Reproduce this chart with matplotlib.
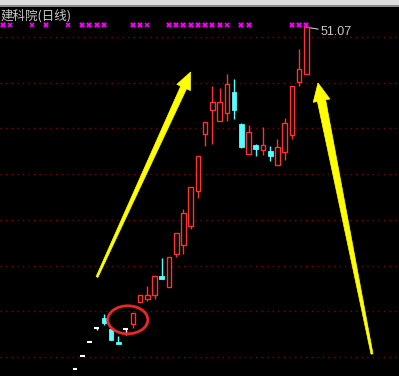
import numpy as np
import matplotlib
matplotlib.use('Agg')
import matplotlib.pyplot as plt
from matplotlib.patches import Rectangle, Polygon, Ellipse
import matplotlib.transforms as mtransforms

title = "建科院(日线)"

open_ = [13.64, 15.07, 16.60, 18.19, 19.26, 18.05, 16.66, 18.02, 18.63, 21.04,
         21.30, 21.74, 23.85, 22.68, 26.29, 27.28, 29.35, 33.18, 39.42, 41.98,
         40.78, 41.65, 43.95, 40.45, 37.23, 38.15, 37.69, 37.53, 36.03, 37.38,
         39.24, 45.04, 45.92]
high = [13.64, 15.07, 16.60, 18.19, 19.69, 18.05, 17.29, 18.02, 19.77, 21.74,
        22.76, 23.82, 25.82, 25.90, 28.52, 31.18, 33.56, 36.98, 40.67, 44.64,
        44.42, 45.95, 45.40, 40.62, 40.34, 38.29, 40.15, 38.07, 38.84, 41.14,
        44.61, 48.69, 51.07]
low = [13.64, 15.07, 16.60, 17.98, 18.49, 16.85, 16.44, 17.40, 18.19, 21.04,
       21.08, 21.30, 23.56, 22.68, 25.96, 26.29, 29.03, 32.42, 38.11, 38.29,
       40.78, 40.84, 41.06, 37.89, 37.23, 37.01, 37.12, 36.47, 36.03, 36.54,
       38.87, 44.67, 45.92]
close = [13.64, 15.07, 16.60, 18.19, 18.68, 16.85, 16.44, 18.02, 19.77, 21.74,
         21.74, 23.82, 23.56, 25.90, 28.52, 30.71, 33.56, 36.98, 40.67, 42.86,
         42.86, 44.82, 42.05, 38.00, 39.57, 37.78, 38.15, 37.01, 37.96, 40.56,
         44.61, 46.47, 51.07]

signal_full = [-10, -4, 1, 2, 3, 4, 8, 9, 13, 14, 15, 16, 17, 18, 19, 20, 23, 24, 30, 31, 32]
signal_thin = [-9, -6, -1, 10, 21]

grid_levels = [50, 45, 40, 35, 30, 25, 20, 15]

W, H = 399, 376
RED = '#ff3232'
CYAN = '#54ffff'

fig = plt.figure(figsize=(W / 100, H / 100), dpi=100, facecolor='black')
ax = fig.add_axes([0, 0, 1, 1])
ax.set_facecolor('black')
ax.set_xlim(-10.37, 44.81)
ax.set_ylim(12.91, 54.05)
ax.axis('off')

# grid
ax.hlines(grid_levels, -10.37, 44.81, colors='#800000', linestyles=(0, (1, 3)), lw=1.0, zorder=1)

# candles
bw = 0.64
for i in range(len(open_)):
    o, h, l, c = open_[i], high[i], low[i], close[i]
    if c > o:
        col = RED
        ax.vlines(i, l, o, colors=col, lw=1.0, zorder=3)
        ax.vlines(i, c, h, colors=col, lw=1.0, zorder=3)
        ax.add_patch(Rectangle((i - bw / 2, o), bw, c - o, facecolor='black',
                               edgecolor=col, lw=1.0, zorder=4))
    elif c < o:
        col = CYAN
        ax.vlines(i, l, h, colors=col, lw=1.0, zorder=3)
        ax.add_patch(Rectangle((i - bw / 2, c), bw, o - c, facecolor=col,
                               edgecolor=col, lw=0.6, zorder=4))
    else:
        col = 'white'
        ax.vlines(i, l, h, colors=col, lw=1.0, zorder=3)
        ax.hlines(o, i - bw / 2, i + bw / 2, colors=col, lw=1.5, zorder=4)

# signal markers at the top
trans = mtransforms.blended_transform_factory(ax.transData, ax.transAxes)
ax.plot(signal_full, [0.933] * len(signal_full), 'X', color='#ff00ff',
        markersize=4.3, markeredgewidth=0, transform=trans, zorder=5)
ax.plot(signal_thin, [0.933] * len(signal_thin), 'x', color='#ff00ff',
        markersize=3.2, markeredgewidth=1.1, transform=trans, zorder=5)

# peak label
imax = int(np.argmax(high))
ax.annotate(f"{high[imax]:.2f}", xy=(imax, high[imax]), xytext=(10.5, -3.5),
            textcoords='offset points', va='center', ha='left', color='#c8c8c8',
            fontsize=9, family='Liberation Sans',
            arrowprops=dict(arrowstyle='-', color='#c8c8c8', lw=0.8, shrinkA=0, shrinkB=0))

# title
fig.text(1 / W, 1 - 16 / H, title, color='#c8c8c8', fontsize=9, va='center', ha='left',
         family=['Noto Sans CJK SC', 'DejaVu Sans'])

# top gray bar
fig.patches.append(Rectangle((0, 1 - 5 / H), 1, 5 / H, transform=fig.transFigure,
                             facecolor='#dcdcdc', edgecolor='none', zorder=10))
fig.patches.append(Rectangle((0, 1 - 6.5 / H), 1, 1.5 / H, transform=fig.transFigure,
                             facecolor='#8a8a8a', edgecolor='none', zorder=10))


def px(x, y):
    return (x / W, 1 - y / H)


def arrow_poly(tail, tip, w_tail, w_base, w_head, head_len):
    T = np.array(tail, float)
    P = np.array(tip, float)
    d = P - T
    u = d / np.linalg.norm(d)
    n = np.array([-u[1], u[0]])
    B = P - head_len * u
    pts = [T - w_tail * n, B - w_base * n, B - w_head * n, P,
           B + w_head * n, B + w_base * n, T + w_tail * n]
    return [px(*p) for p in pts]


for tail, tip, wt, wb, wh, hl in [((97, 277), (190.7, 72), 1.0, 3.2, 7.5, 17),
                                  ((372, 354), (318, 83), 1.0, 4.2, 8.5, 18)]:
    fig.patches.append(Polygon(arrow_poly(tail, tip, wt, wb, wh, hl), closed=True,
                               transform=fig.transFigure, facecolor='#ffff00',
                               edgecolor='#ffff00', lw=0.5, zorder=8))

# red ellipse highlight
cx, cy = px(127.8, 319.8)
fig.patches.append(Ellipse((cx, cy), 40 / W, 28 / H, transform=fig.transFigure,
                           facecolor='none', edgecolor='#e82828', lw=2.0, zorder=8))

fig.savefig('out.png', dpi=100, facecolor='black')
